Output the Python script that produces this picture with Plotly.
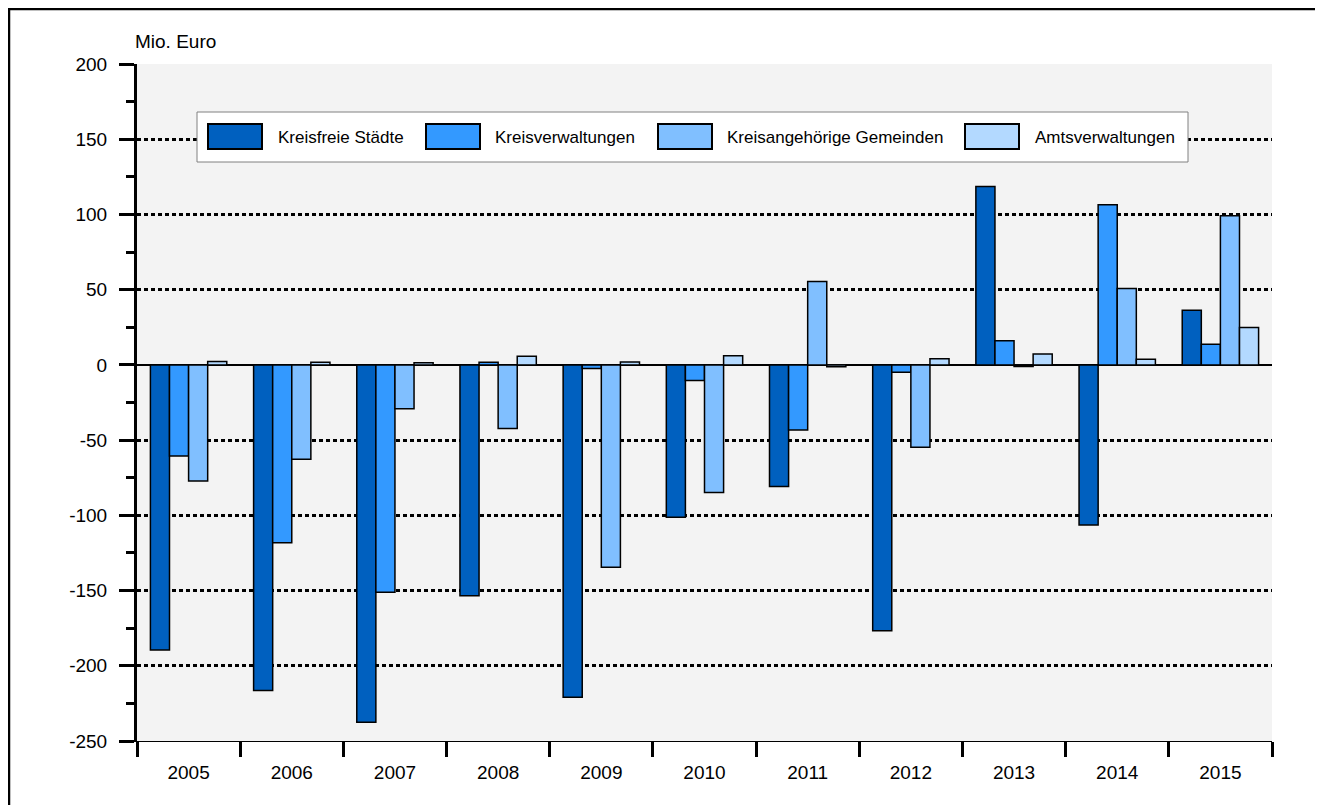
import plotly.graph_objects as go

years = ["2005", "2006", "2007", "2008", "2009", "2010", "2011", "2012", "2013", "2014", "2015"]
series_names = ["Kreisfreie Städte", "Kreisverwaltungen", "Kreisangehörige Gemeinden", "Amtsverwaltungen"]
kreisfreie_staedte = [-189.5, -216.5, -237.5, -153.5, -221.0, -101.3, -80.9, -176.8, 118.5, -106.4, 36.3]
kreisverwaltungen = [-60.5, -118.3, -151.1, 1.8, -2.4, -10.4, -43.2, -4.9, 16.0, 106.4, 13.7]
kreisangehoerige_gemeinden = [-77.1, -62.7, -29.2, -42.3, -134.5, -84.9, 55.4, -54.7, -1.1, 50.7, 99.2]
amtsverwaltungen = [2.2, 1.8, 1.5, 5.8, 2.0, 6.0, -1.3, 4.0, 7.3, 3.8, 24.8]
colors = ["#0060BF", "#3399FF", "#80BFFF", "#B3D9FF"]
y_ticks = [-250, -200, -150, -100, -50, 0, 50, 100, 150, 200]

FONT = "Liberation Sans, Arial, sans-serif"
OFF = 8  # page body margin
W, H = 1323 - OFF, 805 - OFF
# plot area in page pixels: x 137..1272, y 64..741
PL, PR, PT, PB = 137, 1272, 64, 741
L, T = PL - OFF, PT - OFF
R, B = W - (PR - OFF), H - (PB - OFF)
PW, PH = PR - PL, PB - PT


def px(x):
    return (x - PL) / PW


def py(y):
    return (PB - y) / PH


fig = go.Figure()
all_series = [kreisfreie_staedte, kreisverwaltungen, kreisangehoerige_gemeinden, amtsverwaltungen]
for name, vals, c in zip(series_names, all_series, colors):
    fig.add_trace(go.Bar(
        x=years, y=vals, name=name,
        marker=dict(color=c, line=dict(color="black", width=1.5)),
        showlegend=False,
    ))

shapes = []
annotations = []
# outer border
shapes.append(dict(type="rect", xref="paper", yref="paper",
                   x0=px(9), x1=px(1320), y0=py(815), y1=py(9),
                   line=dict(color="black", width=2.5), fillcolor="rgba(0,0,0,0)", layer="above"))
# legend box
shapes.append(dict(type="rect", xref="paper", yref="paper",
                   x0=px(197), x1=px(1188), y0=py(162), y1=py(112),
                   line=dict(color="#808080", width=1), fillcolor="white", layer="above"))
sw_x = [208, 426, 658, 965]
tx_x = [276, 493, 725, 1033]
for i in range(4):
    shapes.append(dict(type="rect", xref="paper", yref="paper",
                       x0=px(sw_x[i]), x1=px(sw_x[i] + 54), y0=py(149), y1=py(124),
                       line=dict(color="black", width=2), fillcolor=colors[i], layer="above"))
    annotations.append(dict(xref="paper", yref="paper", x=px(tx_x[i]), y=py(137),
                            xanchor="left", yanchor="middle", showarrow=False,
                            text=series_names[i], font=dict(family=FONT, size=17, color="black")))
annotations.append(dict(xref="paper", yref="paper", x=px(133), y=py(42),
                        xanchor="left", yanchor="middle", showarrow=False,
                        text="Mio. Euro", font=dict(family=FONT, size=19, color="black")))

fig.update_layout(
    width=W, height=H,
    margin=dict(l=L, r=R, t=T, b=B, pad=0),
    paper_bgcolor="white", plot_bgcolor="#F3F3F3",
    barmode="group", bargap=0.26, bargroupgap=0,
    font=dict(family=FONT, size=19, color="black"),
    shapes=shapes, annotations=annotations,
    xaxis=dict(
        type="category", range=[-0.5, 10.5], tickson="boundaries",
        ticks="outside", ticklen=15, tickwidth=2.5, tickcolor="black",
        showgrid=False, showline=True, linecolor="black", linewidth=1,
        tickfont=dict(family=FONT, size=19, color="black"),
        ticklabelstandoff=14,
        fixedrange=True,
    ),
    yaxis=dict(
        range=[-250, 200], tickvals=y_ticks, ticktext=[str(v) for v in y_ticks],
        ticks="outside", ticklen=15, tickwidth=3, tickcolor="black",
        minor=dict(dtick=25, ticks="outside", ticklen=8, tickwidth=3, tickcolor="black", showgrid=False),
        showgrid=True, gridcolor="black", griddash="4px,3px", gridwidth=2.5,
        zeroline=True, zerolinecolor="black", zerolinewidth=2,
        showline=True, linecolor="black", linewidth=3,
        tickfont=dict(family=FONT, size=19, color="black"),
        ticklabelstandoff=8,
        fixedrange=True,
    ),
)

fig.write_html("out.html")
